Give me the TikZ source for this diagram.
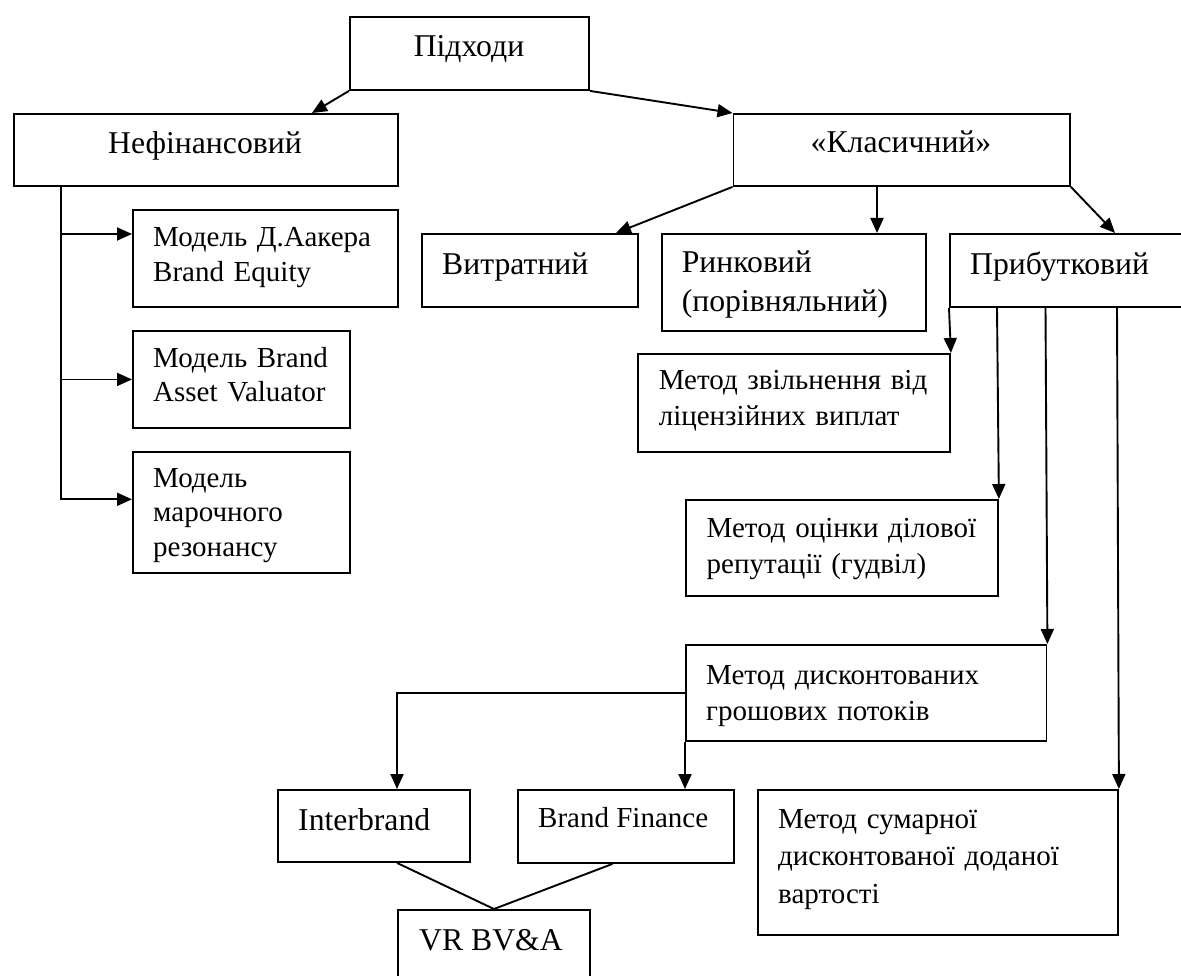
\documentclass[tikz,border=0pt]{standalone}
\usepackage{fontspec}
\setmainfont{Liberation Serif}
\usetikzlibrary{arrows.meta,calc}
\tikzset{
  box/.style={draw, line width=1.9pt, inner sep=0pt, anchor=north west},
  conn/.style={line width=1.9pt},
  arr/.style={conn, -{Triangle[length=15pt,width=13pt]}},
  big/.style={inner sep=0pt, font=\fontsize{31.7}{38}\selectfont},
  small/.style={inner sep=0pt, font=\fontsize{29}{34.5}\selectfont},
  ml/.style={anchor=base west, text width=360pt, align=left},
}
\begin{document}
\begin{tikzpicture}[x=1pt,y=-1pt]
\useasboundingbox (0,0) rectangle (1181,976);
\clip (0,0) rectangle (1181,976);
% boxes
\node[box, minimum width=239pt, minimum height=73pt] (pid) at (349,16) {};
\node[box, minimum width=384.4pt, minimum height=72pt] (nef) at (12.6,113) {};
\node[box, minimum width=336.5pt, minimum height=72pt] (kla) at (732.5,113) {};
\node[box, minimum width=265pt, minimum height=97pt] (aak) at (132,209) {};
\node[box, minimum width=216pt, minimum height=73pt] (vit) at (421,233) {};
\node[box, minimum width=264pt, minimum height=97pt] (rin) at (661,233) {};
\node[box, minimum width=245pt, minimum height=73pt] (pri) at (949,233) {};
\node[box, minimum width=217pt, minimum height=97pt] (bav) at (132,330) {};
\node[box, minimum width=217pt, minimum height=121pt] (mar) at (132,451) {};
\node[box, minimum width=312pt, minimum height=98pt] (zvi) at (637,353) {};
\node[box, minimum width=312pt, minimum height=96pt] (oci) at (685,499) {};
\node[box, minimum width=360.5pt, minimum height=96pt] (dis) at (685,644) {};
\node[box, minimum width=360pt, minimum height=145pt] (sum) at (757,789) {};
\node[box, minimum width=192pt, minimum height=72pt] (int) at (277,789) {};
\node[box, minimum width=216pt, minimum height=73pt] (bf) at (517,789) {};
\node[box, minimum width=192pt, minimum height=100pt] (vr) at (397,909) {};
% texts
\node[big, anchor=base] (tpid) at (469,57) {Підходи};
\node[big, anchor=base] (tnef) at (205,154) {Нефінансовий};
\node[big, anchor=base] (tkla) at (901,153) {«Класичний»};
\node[small, ml] (taak) at (153,247) {Модель Д.Аакера\\Brand Equity};
\node[big, anchor=base west] (tvit) at (442,275) {Витратний};
\node[big, ml, font=\fontsize{31.7}{39}\selectfont] (trin) at (681.6,273) {Ринковий\\(порівняльний)};
\node[big, anchor=base west] (tpri) at (970,275) {Прибутковий};
\node[small, ml] (tbav) at (153,367) {Модель Brand\\Asset Valuator};
\node[small, ml] (tmar) at (153,487) {Модель\\марочного\\резонансу};
\node[small, ml, font=\fontsize{29}{36}\selectfont] (tzvi) at (658.6,389) {Метод звільнення від\\ліцензійних виплат};
\node[small, ml, font=\fontsize{29}{36}\selectfont] (toci) at (706.5,537) {Метод оцінки ділової\\репутації (гудвіл)};
\node[small, ml, font=\fontsize{29}{36.7}\selectfont] (tdis) at (706,684) {Метод дисконтованих\\грошових потоків};
\node[small, ml, font=\fontsize{29}{37.5}\selectfont] (tsum) at (778,828) {Метод сумарної\\дисконтованої доданої\\вартості};
\node[big, anchor=base west] (tint) at (298,830) {Interbrand};
\node[small, anchor=base west] (tbf) at (538,827) {Brand Finance};
\node[big, anchor=base west] (tvr) at (419,950) {VR BV\&A};
% connectors
\draw[arr] (pid.south west) -- ([xshift=299.4pt]nef.north west);
\draw[arr] (pid.south east) -- (kla.north west);
\draw[arr] (kla.south west) -- ([xshift=195pt]vit.north west);
\draw[arr] ([xshift=144.5pt]kla.south west) -- ([xshift=216pt]rin.north west);
\draw[arr] (kla.south east) -- ([xshift=166pt]pri.north west);
\draw[arr] (pri.south west) -- (zvi.north east);
\draw[arr] ([xshift=48pt]pri.south west) -- (oci.north east);
\draw[arr] ([xshift=96.5pt]pri.south west) -- (dis.north east);
\draw[arr] ([xshift=168pt]pri.south west) -- (sum.north east);
\coordinate (trunk) at ([xshift=48.4pt]nef.south west);
\coordinate (aakin) at ([yshift=-25pt]aak.north west);
\coordinate (marin) at ([yshift=-48.3pt]mar.north west);
\draw[arr] (trunk) |- (marin);
\draw[arr] (trunk |- aakin) -- (aakin);
\draw[arr] (trunk |- bav.west) -- (bav.west);
\draw[arr] (dis.west) -| ([xshift=120pt]int.north west);
\draw[arr] (dis.south west) -- ([xshift=168pt]bf.north west);
\draw[conn] ([xshift=120pt]int.south west) -- (vr.north);
\draw[conn] ([xshift=95.5pt]bf.south west) -- (vr.north);
\end{tikzpicture}
\end{document}
